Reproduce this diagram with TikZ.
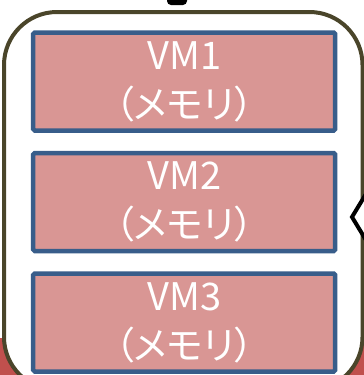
\documentclass[tikz,border=0pt]{standalone}
\usepackage{fontspec}
\setmainfont{Noto Sans CJK JP}[RawFeature={+palt}]
\definecolor{vmfill}{HTML}{D99694}
\definecolor{vmline}{HTML}{385D8A}
\definecolor{hostline}{HTML}{4A452A}
\definecolor{bgred}{HTML}{C0504D}
\begin{document}
\begin{tikzpicture}[x=1pt,y=-1pt,
    vmbox/.style={draw=vmline,line width=4.5pt,fill=vmfill,rounded corners=1.5pt,
      minimum width=302pt,minimum height=98pt,inner sep=0pt,
      text=white,align=center,font=\fontsize{38}{49}\selectfont}]
  \clip (0,0) rectangle (364,375);
  \fill[bgred] (0,338) rectangle (364,375);
  \draw[hostline,line width=4pt,fill=white,rounded corners=53pt] (4,12) rectangle (362.5,390);
  \fill[black,rounded corners=4pt] (167,-10) rectangle (187,5);
  \foreach \i/\y in {1/81.5,2/202,3/322.5} {
      \node[vmbox] (vm\i) at (184.2,\y) {VM\i\\（メモリ）};
    }
  \draw[line width=4pt,fill=white] (372,184) -- (352,217) -- (372,250);
\end{tikzpicture}
\end{document}
